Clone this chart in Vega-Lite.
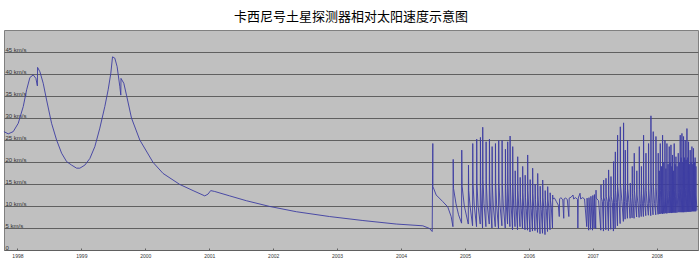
{
 "$schema": "https://vega.github.io/schema/vega-lite/v6.json",
 "width": 694, "height": 220,
 "autosize": {"type": "none"},
 "padding": {"left": 4, "top": 30, "right": 2, "bottom": 13},
 "background": "white",
 "title": {"text": "卡西尼号土星探测器相对太阳速度示意图", "font": "Noto Sans CJK SC", "fontSize": 13, "fontWeight": "normal", "color": "#000000", "anchor": "middle", "offset": 6},
 "config": {"view": {"fill": "#c0c0c0", "stroke": "#808080", "strokeWidth": 1}},
 "data": {"values": [
{"t":1997.789,"v":26.9},{"t":1997.856,"v":26.4},{"t":1997.934,"v":26.9},{"t":1998.013,"v":28.8},{"t":1998.091,"v":32.6},{"t":1998.144,"v":36.4},{"t":1998.195,"v":39.2},{"t":1998.247,"v":39.8},{"t":1998.289,"v":39.0},{"t":1998.312,"v":37.3},{"t":1998.315,"v":41.5},{"t":1998.352,"v":40.5},{"t":1998.403,"v":37.9},{"t":1998.456,"v":34.1},{"t":1998.534,"v":28.8},{"t":1998.6125,"v":25.0},{"t":1998.691,"v":22.0},{"t":1998.769,"v":20.1},{"t":1998.847,"v":19.3},{"t":1998.925,"v":18.6},{"t":1998.977,"v":18.6},{"t":1999.055,"v":19.3},{"t":1999.133,"v":20.8},{"t":1999.211,"v":23.5},{"t":1999.289,"v":27.7},{"t":1999.367,"v":32.6},{"t":1999.419,"v":36.4},{"t":1999.461,"v":40.2},{"t":1999.4875,"v":43.9},{"t":1999.523,"v":43.6},{"t":1999.559,"v":41.7},{"t":1999.602,"v":37.1},{"t":1999.617,"v":35.2},{"t":1999.62,"v":39.0},{"t":1999.664,"v":37.9},{"t":1999.706,"v":35.2},{"t":1999.784,"v":30.0},{"t":1999.914,"v":25.0},{"t":2000.122,"v":19.9},{"t":2000.278,"v":17.4},{"t":2000.539,"v":14.9},{"t":2000.747,"v":13.5},{"t":2000.930,"v":12.3},{"t":2000.981,"v":12.7},{"t":2001.023,"v":13.5},{"t":2001.086,"v":13.3},{"t":2001.320,"v":12.3},{"t":2001.581,"v":11.2},{"t":2001.945,"v":9.9},{"t":2002.363,"v":8.7},{"t":2002.883,"v":7.6},{"t":2003.403,"v":6.7},{"t":2003.925,"v":5.9},{"t":2004.341,"v":5.5},{"t":2004.445,"v":4.9},{"t":2004.4875,"v":4.2},{"t":2004.497,"v":24.2},{"t":2004.499,"v":14.4},{"t":2004.55,"v":12.5},{"t":2004.653,"v":11.0},{"t":2004.731,"v":9.8},{"t":2004.784,"v":7.6},{"t":2004.812,"v":5.3},
{"t":2004.816,"v":20.6},{"t":2004.821,"v":14.0},{"t":2004.86,"v":10.5},{"t":2004.90,"v":8.0},{"t":2004.947,"v":6.1},
{"t":2004.95,"v":22.7},{"t":2004.955,"v":14.5},{"t":2004.99,"v":10.0},{"t":2005.052,"v":5.9},
{"t":2005.055,"v":19.3},{"t":2005.059,"v":13.5},{"t":2005.08,"v":10.0},{"t":2005.119,"v":5.5},
{"t":2005.122,"v":24.2},{"t":2005.126,"v":15.0},{"t":2005.145,"v":10.2},{"t":2005.181,"v":5.3},
{"t":2005.184,"v":25.2},{"t":2005.188,"v":15.0},{"t":2005.205,"v":10.0},{"t":2005.239,"v":5.9},
{"t":2005.242,"v":25.6},{"t":2005.246,"v":14.5},{"t":2005.258,"v":10.0},{"t":2005.275,"v":5.0},
{"t":2005.278,"v":27.9},{"t":2005.282,"v":16.0},{"t":2005.298,"v":10.5},{"t":2005.328,"v":5.3},
{"t":2005.331,"v":24.6},{"t":2005.335,"v":15.0},{"t":2005.35,"v":10.0},{"t":2005.38,"v":5.9},
{"t":2005.383,"v":25.2},{"t":2005.387,"v":14.8},{"t":2005.399,"v":10.0},{"t":2005.422,"v":5.0},
{"t":2005.425,"v":23.5},{"t":2005.429,"v":14.5},{"t":2005.444,"v":9.8},{"t":2005.474,"v":5.3},
{"t":2005.477,"v":24.2},{"t":2005.481,"v":15.0},{"t":2005.496,"v":10.0},{"t":2005.525,"v":4.8},
{"t":2005.528,"v":24.9},{"t":2005.532,"v":15.2},{"t":2005.548,"v":10.2},{"t":2005.578,"v":5.5},
{"t":2005.581,"v":24.9},{"t":2005.585,"v":14.6},{"t":2005.6,"v":10.0},{"t":2005.63,"v":5.0},
{"t":2005.633,"v":22.9},{"t":2005.637,"v":14.0},{"t":2005.648,"v":9.8},{"t":2005.666,"v":5.9},
{"t":2005.669,"v":24.6},{"t":2005.673,"v":14.8},{"t":2005.684,"v":10.0},{"t":2005.703,"v":5.3},
{"t":2005.706,"v":25.9},{"t":2005.71,"v":15.5},{"t":2005.722,"v":10.2},{"t":2005.744,"v":4.6},
{"t":2005.747,"v":23.5},{"t":2005.751,"v":14.5},{"t":2005.762,"v":10.0},{"t":2005.783,"v":5.3},
{"t":2005.786,"v":18.0},{"t":2005.79,"v":12.5},{"t":2005.80,"v":9.8},{"t":2005.822,"v":4.6},
{"t":2005.825,"v":21.2},{"t":2005.829,"v":13.5},{"t":2005.84,"v":10.0},{"t":2005.861,"v":5.3},
{"t":2005.864,"v":16.5},{"t":2005.868,"v":12.0},{"t":2005.88,"v":9.5},{"t":2005.90,"v":4.8},
{"t":2005.903,"v":19.0},{"t":2005.907,"v":13.0},{"t":2005.918,"v":9.8},{"t":2005.939,"v":4.6},
{"t":2005.942,"v":17.0},{"t":2005.946,"v":12.0},{"t":2005.958,"v":9.5},{"t":2005.978,"v":4.5},
{"t":2005.981,"v":21.6},{"t":2005.985,"v":13.5},{"t":2005.996,"v":10.0},{"t":2006.017,"v":4.1},
{"t":2006.020,"v":16.0},{"t":2006.024,"v":11.8},{"t":2006.036,"v":9.4},{"t":2006.056,"v":4.3},
{"t":2006.059,"v":18.6},{"t":2006.063,"v":12.8},{"t":2006.074,"v":9.8},{"t":2006.095,"v":4.4},
{"t":2006.098,"v":15.0},{"t":2006.102,"v":11.5},{"t":2006.114,"v":9.2},{"t":2006.135,"v":4.0},
{"t":2006.138,"v":17.4},{"t":2006.142,"v":12.5},{"t":2006.153,"v":9.6},{"t":2006.174,"v":3.7},
{"t":2006.177,"v":14.5},{"t":2006.181,"v":11.4},{"t":2006.193,"v":9.2},{"t":2006.213,"v":3.8},
{"t":2006.216,"v":15.9},{"t":2006.22,"v":12.0},{"t":2006.232,"v":9.5},{"t":2006.252,"v":3.5},
{"t":2006.255,"v":13.5},{"t":2006.259,"v":11.2},{"t":2006.271,"v":9.4},{"t":2006.291,"v":4.2},
{"t":2006.294,"v":14.4},{"t":2006.298,"v":11.6},{"t":2006.31,"v":9.8},{"t":2006.33,"v":4.6},
{"t":2006.333,"v":13.0},{"t":2006.337,"v":11.3},{"t":2006.35,"v":9.8},{"t":2006.369,"v":5.0},
{"t":2006.372,"v":12.5},{"t":2006.376,"v":11.6},{"t":2006.40,"v":11.8},{"t":2006.43,"v":11.0},{"t":2006.46,"v":10.2},{"t":2006.475,"v":7.6},{"t":2006.48,"v":11.6},{"t":2006.50,"v":11.9},{"t":2006.53,"v":11.4},{"t":2006.545,"v":7.2},{"t":2006.55,"v":11.6},{"t":2006.575,"v":11.8},{"t":2006.60,"v":11.5},{"t":2006.625,"v":7.6},{"t":2006.63,"v":11.8},{"t":2006.66,"v":12.0},{"t":2006.69,"v":12.5},{"t":2006.70,"v":11.6},{"t":2006.73,"v":11.9},{"t":2006.76,"v":11.5},{"t":2006.766,"v":5.0},{"t":2006.772,"v":11.8},{"t":2006.80,"v":12.9},{"t":2006.81,"v":11.6},{"t":2006.84,"v":11.9},{"t":2006.87,"v":11.6},{"t":2006.905,"v":5.3},{"t":2006.91,"v":11.8},{"t":2006.935,"v":4.5},{"t":2006.94,"v":11.9},{"t":2006.965,"v":4.7},{"t":2006.97,"v":12.2},{"t":2006.995,"v":4.5},{"t":2007.00,"v":12.4},{"t":2007.02,"v":5.0},{"t":2007.025,"v":12.6},{"t":2007.045,"v":4.8},
{"t":2007.050,"v":13.6},{"t":2007.053,"v":11.8},{"t":2007.09,"v":11.2},{"t":2007.125,"v":4.5},
{"t":2007.128,"v":14.8},{"t":2007.131,"v":12.0},{"t":2007.15,"v":11.0},{"t":2007.166,"v":4.3},
{"t":2007.169,"v":15.9},{"t":2007.172,"v":12.0},{"t":2007.19,"v":11.0},{"t":2007.203,"v":4.6},
{"t":2007.206,"v":16.3},{"t":2007.209,"v":12.2},{"t":2007.227,"v":11.0},{"t":2007.244,"v":4.4},
{"t":2007.247,"v":18.2},{"t":2007.25,"v":12.5},{"t":2007.266,"v":10.8},{"t":2007.281,"v":4.7},
{"t":2007.284,"v":16.7},{"t":2007.287,"v":12.2},{"t":2007.305,"v":10.8},{"t":2007.322,"v":4.3},
{"t":2007.325,"v":20.1},{"t":2007.328,"v":13.0},{"t":2007.338,"v":10.8},{"t":2007.349,"v":4.9},
{"t":2007.352,"v":22.3},{"t":2007.355,"v":13.5},{"t":2007.37,"v":10.8},{"t":2007.385,"v":5.5},
{"t":2007.3875,"v":26.1},{"t":2007.39,"v":14.5},{"t":2007.41,"v":11.0},{"t":2007.427,"v":6.0},
{"t":2007.430,"v":28.0},{"t":2007.433,"v":15.0},{"t":2007.455,"v":11.0},{"t":2007.478,"v":6.5},
{"t":2007.481,"v":28.9},{"t":2007.484,"v":15.0},{"t":2007.495,"v":11.0},{"t":2007.505,"v":7.0},
{"t":2007.508,"v":22.7},{"t":2007.511,"v":13.5},{"t":2007.526,"v":10.8},{"t":2007.541,"v":7.2},
{"t":2007.544,"v":25.0},{"t":2007.547,"v":14.0},{"t":2007.565,"v":10.8},{"t":2007.583,"v":7.2},
{"t":2007.586,"v":15.2},{"t":2007.589,"v":12.0},{"t":2007.60,"v":10.5},{"t":2007.614,"v":7.3},
{"t":2007.617,"v":19.0},{"t":2007.62,"v":12.8},{"t":2007.632,"v":10.5},{"t":2007.645,"v":7.2},
{"t":2007.648,"v":22.0},{"t":2007.651,"v":13.5},{"t":2007.668,"v":10.5},{"t":2007.685,"v":7.5},
{"t":2007.688,"v":18.0},{"t":2007.691,"v":12.5},{"t":2007.707,"v":10.5},{"t":2007.724,"v":7.4},
{"t":2007.727,"v":23.5},{"t":2007.73,"v":13.8},{"t":2007.743,"v":10.5},{"t":2007.757,"v":7.6},
{"t":2007.76,"v":19.0},{"t":2007.763,"v":12.8},{"t":2007.777,"v":10.5},{"t":2007.791,"v":7.6},
{"t":2007.794,"v":26.1},{"t":2007.797,"v":14.5},{"t":2007.812,"v":10.6},{"t":2007.828,"v":7.8},
{"t":2007.831,"v":22.0},{"t":2007.834,"v":13.5},{"t":2007.85,"v":10.6},{"t":2007.869,"v":7.9},
{"t":2007.872,"v":24.2},{"t":2007.875,"v":14.0},{"t":2007.89,"v":10.6},{"t":2007.906,"v":7.8},
{"t":2007.909,"v":30.5},{"t":2007.912,"v":15.5},{"t":2007.926,"v":10.8},{"t":2007.942,"v":8.0},
{"t":2007.945,"v":26.9},{"t":2007.948,"v":14.5},{"t":2007.965,"v":10.6},{"t":2007.984,"v":8.0},
{"t":2007.9875,"v":25.8},{"t":2007.99,"v":14.2},{"t":2008.005,"v":10.6},{"t":2008.02,"v":8.1},
{"t":2008.023,"v":22.0},{"t":2008.025,"v":13.0},{"t":2008.037,"v":8.2},
{"t":2008.039,"v":18.0},{"t":2008.041,"v":12.0},{"t":2008.053,"v":8.2},
{"t":2008.055,"v":24.2},{"t":2008.057,"v":13.5},{"t":2008.071,"v":8.3},
{"t":2008.073,"v":19.0},{"t":2008.075,"v":12.0},{"t":2008.089,"v":8.2},
{"t":2008.091,"v":26.1},{"t":2008.093,"v":14.0},{"t":2008.108,"v":8.3},
{"t":2008.110,"v":20.0},{"t":2008.112,"v":12.5},{"t":2008.126,"v":8.3},
{"t":2008.128,"v":25.0},{"t":2008.130,"v":14.0},{"t":2008.141,"v":8.4},
{"t":2008.143,"v":18.5},{"t":2008.145,"v":12.0},{"t":2008.157,"v":8.3},
{"t":2008.159,"v":24.2},{"t":2008.161,"v":13.5},{"t":2008.175,"v":8.4},
{"t":2008.177,"v":19.5},{"t":2008.179,"v":12.2},{"t":2008.193,"v":8.4},
{"t":2008.195,"v":23.5},{"t":2008.197,"v":13.5},{"t":2008.207,"v":8.4},
{"t":2008.209,"v":20.0},{"t":2008.211,"v":12.5},{"t":2008.220,"v":8.5},
{"t":2008.222,"v":23.9},{"t":2008.224,"v":13.5},{"t":2008.233,"v":8.4},
{"t":2008.235,"v":19.0},{"t":2008.237,"v":12.0},{"t":2008.245,"v":8.5},
{"t":2008.247,"v":21.6},{"t":2008.249,"v":13.0},{"t":2008.258,"v":8.5},
{"t":2008.260,"v":18.0},{"t":2008.262,"v":12.0},{"t":2008.271,"v":8.5},
{"t":2008.273,"v":24.2},{"t":2008.275,"v":13.5},{"t":2008.285,"v":8.5},
{"t":2008.287,"v":19.5},{"t":2008.289,"v":12.2},{"t":2008.298,"v":8.5},
{"t":2008.300,"v":21.2},{"t":2008.302,"v":13.0},{"t":2008.316,"v":8.5},
{"t":2008.318,"v":19.0},{"t":2008.320,"v":12.0},{"t":2008.334,"v":8.6},
{"t":2008.336,"v":22.0},{"t":2008.338,"v":13.0},{"t":2008.35,"v":8.6},
{"t":2008.352,"v":20.0},{"t":2008.354,"v":12.5},{"t":2008.365,"v":8.6},
{"t":2008.367,"v":26.1},{"t":2008.369,"v":14.0},{"t":2008.379,"v":8.6},
{"t":2008.381,"v":21.0},{"t":2008.383,"v":12.8},{"t":2008.392,"v":8.6},
{"t":2008.394,"v":26.5},{"t":2008.396,"v":14.0},{"t":2008.405,"v":8.6},
{"t":2008.407,"v":20.0},{"t":2008.409,"v":12.5},{"t":2008.417,"v":8.6},
{"t":2008.419,"v":25.8},{"t":2008.421,"v":14.0},{"t":2008.43,"v":8.6},
{"t":2008.432,"v":21.0},{"t":2008.434,"v":12.8},{"t":2008.443,"v":8.7},
{"t":2008.445,"v":25.0},{"t":2008.447,"v":14.0},{"t":2008.457,"v":8.6},
{"t":2008.459,"v":20.5},{"t":2008.461,"v":12.6},{"t":2008.47,"v":8.7},
{"t":2008.472,"v":27.6},{"t":2008.474,"v":14.5},{"t":2008.483,"v":8.7},
{"t":2008.485,"v":21.0},{"t":2008.487,"v":12.8},{"t":2008.495,"v":8.7},
{"t":2008.497,"v":24.6},{"t":2008.499,"v":14.0},{"t":2008.508,"v":8.7},
{"t":2008.510,"v":19.5},{"t":2008.512,"v":12.5},{"t":2008.521,"v":8.7},
{"t":2008.523,"v":22.7},{"t":2008.525,"v":13.5},{"t":2008.535,"v":8.7},
{"t":2008.537,"v":20.0},{"t":2008.539,"v":12.5},{"t":2008.548,"v":8.8},
{"t":2008.550,"v":23.5},{"t":2008.552,"v":13.5},{"t":2008.561,"v":8.8},
{"t":2008.563,"v":19.5},{"t":2008.565,"v":12.5},{"t":2008.573,"v":8.8},
{"t":2008.575,"v":23.1},{"t":2008.577,"v":13.5},{"t":2008.586,"v":8.8},
{"t":2008.588,"v":20.0},{"t":2008.590,"v":12.5},{"t":2008.598,"v":8.8},
{"t":2008.600,"v":21.0},{"t":2008.602,"v":13.0},{"t":2008.611,"v":8.8},
{"t":2008.613,"v":19.0},{"t":2008.615,"v":12.5},{"t":2008.628,"v":9.0}
 ]},
 "mark": {"type": "line", "color": "#3c3ca2", "strokeWidth": 0.9, "interpolate": "linear"},
 "encoding": {
  "x": {"field": "t", "type": "quantitative",
        "scale": {"domain": [1997.79, 2008.645], "nice": false, "zero": false},
        "axis": {"values": [1998,1999,2000,2001,2002,2003,2004,2005,2006,2007,2008], "format": "d", "title": null, "grid": false, "domain": false, "ticks": true, "tickSize": -2, "tickColor": "#606060", "labelFont": "Liberation Sans", "labelFontSize": 5, "labelColor": "#333333", "labelPadding": 5, "labelFlush": false, "labelOverlap": false}},
  "y": {"field": "v", "type": "quantitative",
        "scale": {"domain": [0, 50], "nice": false},
        "axis": {"values": [0,5,10,15,20,25,30,35,40,45], "labelExpr": "datum.value == 0 ? '0' : datum.value + ' km/s'", "title": null, "grid": true, "gridColor": "#606060", "gridWidth": 1, "gridOpacity": 1, "domain": false, "ticks": false, "labelAlign": "left", "labelBaseline": "bottom", "labelPadding": -1, "labelFont": "Liberation Sans", "labelFontSize": 6, "labelColor": "#333333", "labelOverlap": false}}
 }
}
